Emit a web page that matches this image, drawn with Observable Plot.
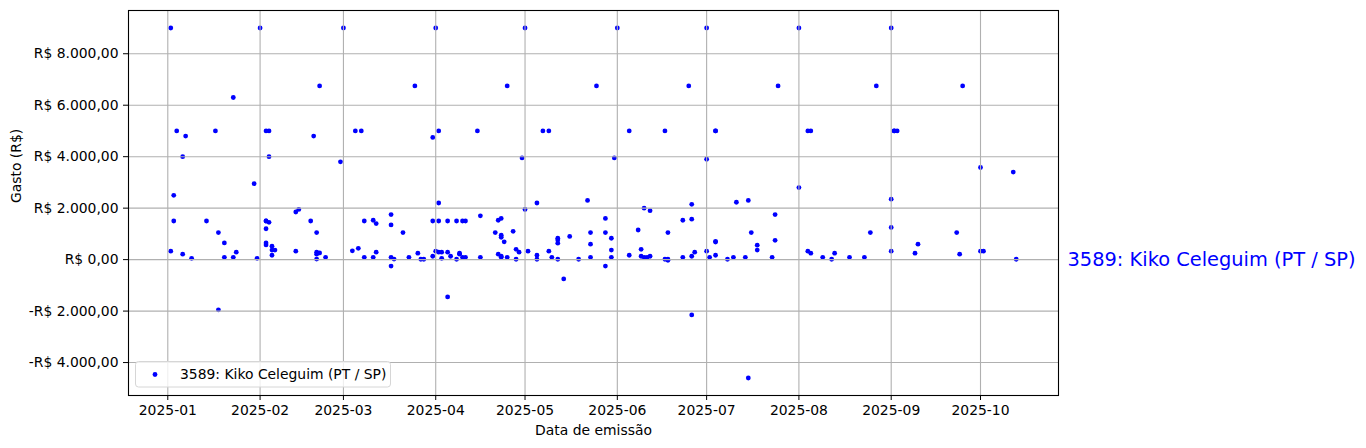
<!DOCTYPE html>
<html>
<head>
<meta charset="utf-8">
<script src="https://cdn.jsdelivr.net/npm/d3@7"></script>
<script src="https://cdn.jsdelivr.net/npm/@observablehq/plot@0.6"></script>
<style>
  html, body { margin: 0; padding: 0; background: #ffffff; }
  #chart { width: 1366px; height: 448px; }
</style>
</head>
<body>
<div id="chart"></div>
<script>
// ---- data ----
const seriesName = "3589: Kiko Celeguim (PT / SP)";
const xLabel = "Data de emissão";
const yLabel = "Gasto (R$)";

const emissionDates = [
  "2025-01-02","2025-01-02","2025-01-03","2025-01-03","2025-01-04","2025-01-06","2025-01-06","2025-01-07",
  "2025-01-09","2025-01-14","2025-01-17","2025-01-18","2025-01-18","2025-01-20","2025-01-20","2025-01-23",
  "2025-01-23","2025-01-24","2025-01-30","2025-01-31",
  "2025-02-01","2025-02-03","2025-02-03","2025-02-03","2025-02-03","2025-02-03","2025-02-03","2025-02-04",
  "2025-02-04","2025-02-04","2025-02-05","2025-02-05","2025-02-05","2025-02-06","2025-02-13","2025-02-13",
  "2025-02-14","2025-02-18","2025-02-19","2025-02-20","2025-02-20","2025-02-20","2025-02-20","2025-02-21",
  "2025-02-21","2025-02-23","2025-02-28",
  "2025-03-01","2025-03-04","2025-03-05","2025-03-06","2025-03-07","2025-03-08","2025-03-08","2025-03-11",
  "2025-03-11","2025-03-12","2025-03-12","2025-03-17","2025-03-17","2025-03-17","2025-03-17","2025-03-18",
  "2025-03-21","2025-03-23","2025-03-25","2025-03-26","2025-03-27","2025-03-28","2025-03-31","2025-03-31",
  "2025-03-31",
  "2025-04-01","2025-04-01","2025-04-02","2025-04-02","2025-04-02","2025-04-02","2025-04-03","2025-04-03",
  "2025-04-05","2025-04-05","2025-04-05","2025-04-06","2025-04-08","2025-04-08","2025-04-09","2025-04-09",
  "2025-04-10","2025-04-10","2025-04-11","2025-04-11","2025-04-15","2025-04-16","2025-04-16","2025-04-21",
  "2025-04-22","2025-04-22","2025-04-23","2025-04-23","2025-04-23","2025-04-23","2025-04-23","2025-04-24",
  "2025-04-25","2025-04-25","2025-04-27","2025-04-28","2025-04-28","2025-04-29","2025-04-30",
  "2025-05-01","2025-05-01","2025-05-02","2025-05-05","2025-05-05","2025-05-05","2025-05-07","2025-05-09",
  "2025-05-09","2025-05-10","2025-05-12","2025-05-12","2025-05-12","2025-05-12","2025-05-14","2025-05-16",
  "2025-05-19","2025-05-22","2025-05-23","2025-05-23","2025-05-23","2025-05-25","2025-05-28","2025-05-28",
  "2025-05-28","2025-05-30","2025-05-30","2025-05-30","2025-05-31",
  "2025-06-01","2025-06-05","2025-06-05","2025-06-08","2025-06-09","2025-06-09","2025-06-10","2025-06-10",
  "2025-06-11","2025-06-12","2025-06-12","2025-06-17","2025-06-17","2025-06-18","2025-06-18","2025-06-18",
  "2025-06-23","2025-06-23","2025-06-25","2025-06-26","2025-06-26","2025-06-26","2025-06-26","2025-06-27",
  "2025-07-01","2025-07-01","2025-07-01","2025-07-02","2025-07-04","2025-07-04","2025-07-04","2025-07-04",
  "2025-07-04","2025-07-08","2025-07-10","2025-07-11","2025-07-14","2025-07-15","2025-07-15","2025-07-16",
  "2025-07-18","2025-07-18","2025-07-23","2025-07-24","2025-07-24","2025-07-25",
  "2025-08-01","2025-08-01","2025-08-04","2025-08-04","2025-08-05","2025-08-05","2025-08-09","2025-08-12",
  "2025-08-13","2025-08-18","2025-08-23","2025-08-25","2025-08-27",
  "2025-09-01","2025-09-01","2025-09-01","2025-09-01","2025-09-02","2025-09-02","2025-09-03","2025-09-09",
  "2025-09-10","2025-09-23","2025-09-24","2025-09-25",
  "2025-10-01","2025-10-01","2025-10-02","2025-10-12","2025-10-13"
];

const amounts = [
  9000, 330, 2500, 1500, 5000, 4000, 210, 4800,
  50, 1500, 5000, -1950, 1050, 650, 90, 6300,
  90, 290, 2950, 50,
  9000, 5000, 1200, 1500, 1500, 650, 570, 5000,
  4000, 1450, 370, 170, 520, 370, 1850, 330,
  1950, 1500, 4800, 1050, 290, 210, 20, 6750,
  260, 90, 3800,
  9000, 340, 5000, 440, 5000, 1500, 90, 1530,
  90, 1400, 290, 1750, 1350, 90, -250, 20,
  1050, 90, 6750, 250, 15, 15, 4750, 1500,
  130,
  9000, 330, 290, 5000, 2200, 1500, 290, 50,
  1500, -1450, 290, 130, 1500, 15, 250, 210,
  1500, 90, 1500, 90, 5000, 1700, 90, 1050,
  1530, 210, 1600, 950, 870, 130, 90, 690,
  6750, 90, 1100, 15, 400, 290, 3950,
  9000, 1950, 330, 2200, 170, 15, 5000, 5000,
  330, 90, 15, 830, 765, 640, -750, 900,
  15, 2300, 1050, 600, 90, 6750, 1600, 1050,
  -250, 830, 370, 90, 3950,
  9000, 5000, 170, 1150, 400, 130, 2000, 90,
  90, 1900, 130, 5000, 15, 1050, 15, -25,
  1530, 90, 6750, 2150, 1570, 130, -2150, 290,
  9000, 3900, 330, 90, 710, 680, 5000, 5000,
  170, 15, 90, 2230, 90, 2300, -4600, 1050,
  560, 370, 90, 1750, 750, 6750,
  9000, 2800, 5000, 330, 5000, 250, 90, 15,
  250, 90, 90, 1050, 6750,
  9000, 2350, 1250, 330, 5000, 5000, 5000, 250,
  600, 1050, 210, 6750,
  3580, 330, 330, 3400, 15
];

const xTicks = ["2025-01-01","2025-02-01","2025-03-01","2025-04-01","2025-05-01",
                "2025-06-01","2025-07-01","2025-08-01","2025-09-01","2025-10-01"];
const xTickLabels = ["2025-01","2025-02","2025-03","2025-04","2025-05",
                     "2025-06","2025-07","2025-08","2025-09","2025-10"];
const yTicks = [-4000, -2000, 0, 2000, 4000, 6000, 8000];
const yTickLabels = ["-R$ 4.000,00","-R$ 2.000,00","R$ 0,00","R$ 2.000,00",
                     "R$ 4.000,00","R$ 6.000,00","R$ 8.000,00"];

// ---- build ----
const parse = d3.utcParse("%Y-%m-%d");
const rows = emissionDates.map((d, i) => ({date: parse(d), value: amounts[i]}));
const xTickDates = xTicks.map(parse);

const [x0, x1] = d3.extent(rows, d => d.date);
const xPad = (x1 - x0) * 0.05;
const [y0, y1] = d3.extent(rows, d => d.value);
const yPad = (y1 - y0) * 0.05;

const W = 1366, H = 448;
const mL = 128, mR = 308, mT = 10, mB = 53;
const gridColor = "#b0b0b0";
const font = "DejaVu Sans";

const plot = Plot.plot({
  width: W,
  height: H,
  marginLeft: mL,
  marginRight: mR,
  marginTop: mT,
  marginBottom: mB,
  style: {fontFamily: font, fontSize: "13.9px", background: "#ffffff", color: "#000000", overflow: "visible"},
  x: {type: "utc", domain: [new Date(+x0 - xPad), new Date(+x1 + xPad)]},
  y: {domain: [y0 - yPad, y1 + yPad]},
  marks: [
    Plot.dot(rows, {x: "date", y: "value", r: 2.4, fill: "#0000ff", stroke: "none"}),
    Plot.gridX(xTickDates, {stroke: gridColor, strokeOpacity: 1, strokeWidth: 1.1}),
    Plot.gridY(yTicks, {stroke: gridColor, strokeOpacity: 1, strokeWidth: 1.1}),
    Plot.frame({stroke: "#000000", strokeWidth: 1.1}),
    Plot.axisX(xTickDates, {
      tickSize: 5, tickPadding: 5, label: null, fontSize: 13.9,
      tickFormat: d => xTickLabels[xTickDates.findIndex(t => +t === +d)]
    }),
    Plot.axisY(yTicks, {
      tickSize: 5, tickPadding: 5, label: null, fontSize: 13.9,
      tickFormat: d => yTickLabels[yTicks.indexOf(d)]
    }),
    Plot.text([xLabel], {frameAnchor: "bottom", dy: 35, lineAnchor: "middle", fontSize: 13.9, fill: "#000000"}),
    Plot.text([yLabel], {frameAnchor: "left", dx: -112, rotate: -90, lineAnchor: "middle", fontSize: 13.9, fill: "#000000"}),
    Plot.text([seriesName], {y: () => 0, frameAnchor: "right", dx: 9, textAnchor: "start",
                             lineAnchor: "middle", fontSize: 19.4, fill: "#0000ff"})
  ]
});

// legend box (lower-left inside the axes)
const svg = d3.select(plot);
const lg = svg.append("g").attr("font-family", font).attr("font-size", "13.9px").attr("text-anchor", "start");
lg.append("rect")
  .attr("x", mL + 7.5).attr("y", H - mB - 33.5)
  .attr("width", 255).attr("height", 25.5)
  .attr("rx", 3).attr("fill", "#ffffff").attr("fill-opacity", 0.8)
  .attr("stroke", "#d6d6d6").attr("stroke-width", 1);
lg.append("circle")
  .attr("cx", mL + 27).attr("cy", H - mB - 20.5).attr("r", 2.4).attr("fill", "#0000ff");
lg.append("text")
  .attr("x", mL + 52).attr("y", H - mB - 20.5).attr("dy", "0.35em")
  .attr("text-anchor", "start")
  .attr("fill", "#000000").text(seriesName);

document.getElementById("chart").appendChild(plot);
</script>
</body>
</html>
